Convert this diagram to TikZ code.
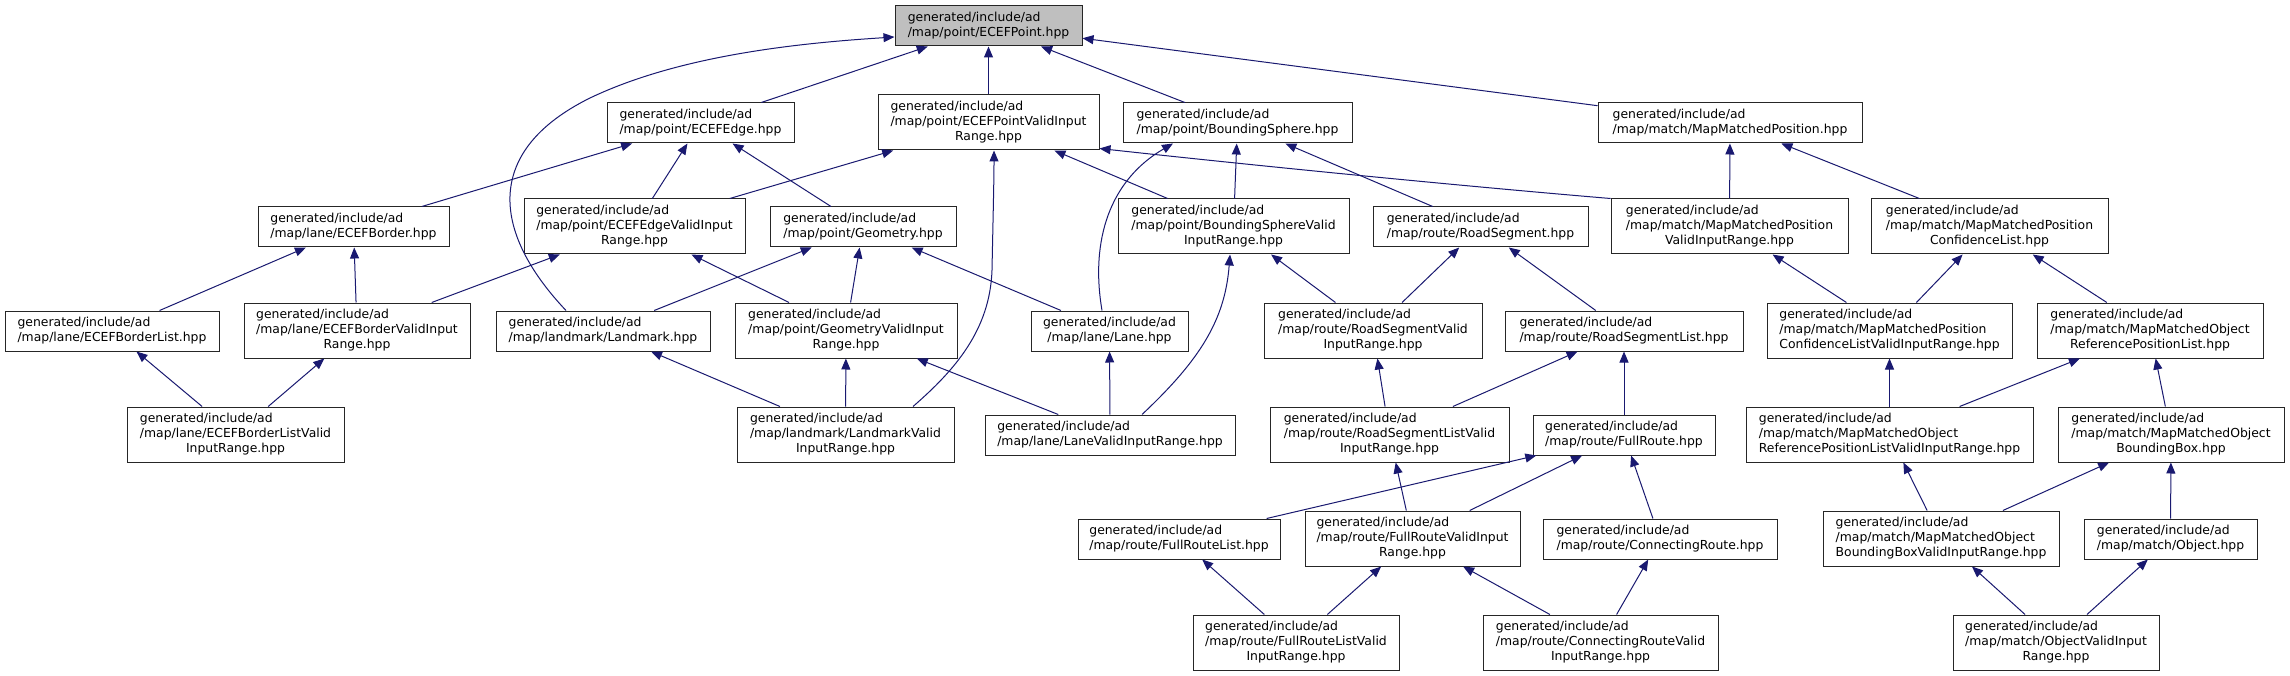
\documentclass[tikz,border=0pt]{standalone}
\usepackage{fontspec}
\usetikzlibrary{arrows.meta}
\newfontfamily\dxfont{DejaVu Sans}
\definecolor{edgeblue}{HTML}{191970}
\definecolor{rootgray}{HTML}{BFBFBF}
\newcommand\twol[2]{\begin{tabular}{@{}l@{}}#1\\\multicolumn{1}{@{}c@{}}{#2}\end{tabular}}
\newcommand\threel[3]{\begin{tabular}{@{}l@{}}#1\\#2\\\multicolumn{1}{@{}c@{}}{#3}\end{tabular}}
\begin{document}
\begin{tikzpicture}[x=1pt,y=-1pt,
  dbox/.style={draw=black!85,line width=1pt,fill=white,inner sep=0pt,
    font=\dxfont\fontsize{12.4}{15}\selectfont,minimum height=40pt},
  tall/.style={minimum height=55pt},
  rootbox/.style={dbox,fill=rootgray},
  dep/.style={draw=edgeblue,line width=1pt,-{Triangle[length=11pt,width=9pt]}}]
\fill[white] (0,0) rectangle (2290,676);
\useasboundingbox (0,0) rectangle (2290,676);
% row 0
\node[rootbox,minimum width=187pt] (ECEFPoint) at (988.5,26) {\twol{generated/include/ad}{/map/point/ECEFPoint.hpp}};
% row 1
\node[dbox,minimum width=187pt] (ECEFEdge) at (700.5,123) {\twol{generated/include/ad}{/map/point/ECEFEdge.hpp}};
\node[dbox,tall,minimum width=221pt] (ECEFPVIR) at (988.5,122.5) {\threel{generated/include/ad}{/map/point/ECEFPointValidInput}{Range.hpp}};
\node[dbox,minimum width=229pt] (BS) at (1237.5,123) {\twol{generated/include/ad}{/map/point/BoundingSphere.hpp}};
\node[dbox,minimum width=264pt] (MMP) at (1730,123) {\twol{generated/include/ad}{/map/match/MapMatchedPosition.hpp}};
% row 2
\node[dbox,minimum width=191pt] (EB) at (353.5,227) {\twol{generated/include/ad}{/map/lane/ECEFBorder.hpp}};
\node[dbox,tall,minimum width=221pt] (EEVIR) at (634.5,226.5) {\threel{generated/include/ad}{/map/point/ECEFEdgeValidInput}{Range.hpp}};
\node[dbox,minimum width=186pt] (Geometry) at (863,227) {\twol{generated/include/ad}{/map/point/Geometry.hpp}};
\node[dbox,tall,minimum width=231pt] (BSVIR) at (1233.5,226.5) {\threel{generated/include/ad}{/map/point/BoundingSphereValid}{InputRange.hpp}};
\node[dbox,minimum width=215pt] (RS) at (1480.5,227) {\twol{generated/include/ad}{/map/route/RoadSegment.hpp}};
\node[dbox,tall,minimum width=237pt] (MMPVIR) at (1729.5,226.5) {\threel{generated/include/ad}{/map/match/MapMatchedPosition}{ValidInputRange.hpp}};
\node[dbox,tall,minimum width=237pt] (MMPCL) at (1989.5,226.5) {\threel{generated/include/ad}{/map/match/MapMatchedPosition}{ConfidenceList.hpp}};
% row 3
\node[dbox,minimum width=214pt] (EBL) at (112,331) {\twol{generated/include/ad}{/map/lane/ECEFBorderList.hpp}};
\node[dbox,tall,minimum width=226pt] (EBVIR) at (357,330.5) {\threel{generated/include/ad}{/map/lane/ECEFBorderValidInput}{Range.hpp}};
\node[dbox,minimum width=214pt] (Landmark) at (603,331) {\twol{generated/include/ad}{/map/landmark/Landmark.hpp}};
\node[dbox,tall,minimum width=222pt] (GVIR) at (846,330.5) {\threel{generated/include/ad}{/map/point/GeometryValidInput}{Range.hpp}};
\node[dbox,minimum width=157pt] (Lane) at (1109.5,331) {\twol{generated/include/ad}{/map/lane/Lane.hpp}};
\node[dbox,tall,minimum width=218pt] (RSVIR) at (1373,330.5) {\threel{generated/include/ad}{/map/route/RoadSegmentValid}{InputRange.hpp}};
\node[dbox,minimum width=238pt] (RSL) at (1624,331) {\twol{generated/include/ad}{/map/route/RoadSegmentList.hpp}};
\node[dbox,tall,minimum width=245pt] (MMPCLVIR) at (1889.5,330.5) {\threel{generated/include/ad}{/map/match/MapMatchedPosition}{ConfidenceListValidInputRange.hpp}};
\node[dbox,tall,minimum width=226pt] (MMORPL) at (2150,330.5) {\threel{generated/include/ad}{/map/match/MapMatchedObject}{ReferencePositionList.hpp}};
% row 4
\node[dbox,tall,minimum width=217pt] (EBLVIR) at (235.5,434.5) {\threel{generated/include/ad}{/map/lane/ECEFBorderListValid}{InputRange.hpp}};
\node[dbox,tall,minimum width=217pt] (LVIR) at (845.5,434.5) {\threel{generated/include/ad}{/map/landmark/LandmarkValid}{InputRange.hpp}};
\node[dbox,minimum width=250pt] (LaneVIR) at (1110,435) {\twol{generated/include/ad}{/map/lane/LaneValidInputRange.hpp}};
\node[dbox,tall,minimum width=239pt] (RSLVIR) at (1389.5,434.5) {\threel{generated/include/ad}{/map/route/RoadSegmentListValid}{InputRange.hpp}};
\node[dbox,minimum width=182pt] (FR) at (1624,435) {\twol{generated/include/ad}{/map/route/FullRoute.hpp}};
\node[dbox,tall,minimum width=287pt] (MMORPLVIR) at (1889.5,434.5) {\threel{generated/include/ad}{/map/match/MapMatchedObject}{ReferencePositionListValidInputRange.hpp}};
\node[dbox,tall,minimum width=226pt] (MMOBB) at (2171,434.5) {\threel{generated/include/ad}{/map/match/MapMatchedObject}{BoundingBox.hpp}};
% row 5
\node[dbox,minimum width=202pt] (FRL) at (1179,539) {\twol{generated/include/ad}{/map/route/FullRouteList.hpp}};
\node[dbox,tall,minimum width=215pt] (FRVIR) at (1412.5,538.5) {\threel{generated/include/ad}{/map/route/FullRouteValidInput}{Range.hpp}};
\node[dbox,minimum width=234pt] (CR) at (1660,539) {\twol{generated/include/ad}{/map/route/ConnectingRoute.hpp}};
\node[dbox,tall,minimum width=236pt] (MMOBBVIR) at (1941,538.5) {\threel{generated/include/ad}{/map/match/MapMatchedObject}{BoundingBoxValidInputRange.hpp}};
\node[dbox,minimum width=173pt] (Object) at (2170.5,539) {\twol{generated/include/ad}{/map/match/Object.hpp}};
% row 6
\node[dbox,tall,minimum width=206pt] (FRLVIR) at (1296,642.5) {\threel{generated/include/ad}{/map/route/FullRouteListValid}{InputRange.hpp}};
\node[dbox,tall,minimum width=235pt] (CRVIR) at (1600.5,642.5) {\threel{generated/include/ad}{/map/route/ConnectingRouteValid}{InputRange.hpp}};
\node[dbox,tall,minimum width=206pt] (ObjVIR) at (2056,642.5) {\threel{generated/include/ad}{/map/match/ObjectValidInput}{Range.hpp}};
% edges into ECEFPoint
\draw[dep] (ECEFEdge) -- (ECEFPoint);
\draw[dep] ([xshift=-37pt]Landmark.north) .. controls (490,230) and (485,150) .. (590,98) .. controls (680,55) and (800,43) .. ([yshift=-11pt]ECEFPoint.west);
\draw[dep] (ECEFPVIR) -- (ECEFPoint);
\draw[dep] (BS) -- (ECEFPoint);
\draw[dep] (MMP) -- (ECEFPoint);
% into ECEFEdge
\draw[dep] (EB) -- (ECEFEdge);
\draw[dep] (EEVIR) -- (ECEFEdge);
\draw[dep] (Geometry) -- (ECEFEdge);
% into ECEFPVIR
\draw[dep] (EEVIR) -- (ECEFPVIR);
\draw[dep] ([xshift=67.5pt]LVIR.north) .. controls (955,370) and (990,330) .. (992,270) .. controls (993,220) and (994,180) .. ([xshift=5.5pt]ECEFPVIR.south);
\draw[dep] (BSVIR) -- (ECEFPVIR);
\draw[dep] (MMPVIR.north west) .. controls (1450,185) and (1250,165) .. ([yshift=2pt]ECEFPVIR.south east);
% into BoundingSphere
\draw[dep] ([xshift=-7.5pt]Lane.north) .. controls (1090,240) and (1110,180) .. ([xshift=-64.5pt]BS.south);
\draw[dep] (BSVIR) -- (BS);
\draw[dep] (RS) -- (BS);
% into ECEFBorder
\draw[dep] (EBL) -- (EB);
\draw[dep] (EBVIR) -- (EB);
% into ECEFEdgeValidInputRange
\draw[dep] (EBVIR) -- (EEVIR);
\draw[dep] (GVIR) -- (EEVIR);
% into Geometry
\draw[dep] (Landmark) -- (Geometry);
\draw[dep] (GVIR) -- (Geometry);
\draw[dep] (Lane) -- (Geometry);
% into BSVIR
\draw[dep] ([xshift=32pt]LaneVIR.north) .. controls (1200,360) and (1225,320) .. ([xshift=-3.5pt]BSVIR.south);
\draw[dep] (RSVIR) -- (BSVIR);
% into RoadSegment
\draw[dep] (RSVIR) -- (RS);
\draw[dep] (RSL) -- (RS);
% into MapMatchedPosition
\draw[dep] (MMPVIR) -- (MMP);
\draw[dep] (MMPCL) -- (MMP);
% into MMPVIR / MMPCL
\draw[dep] (MMPCLVIR) -- (MMPVIR);
\draw[dep] (MMPCLVIR) -- (MMPCL);
\draw[dep] (MMORPL) -- (MMPCL);
% row 4 -> row 3
\draw[dep] (EBLVIR) -- (EBL);
\draw[dep] (EBLVIR) -- (EBVIR);
\draw[dep] (LVIR) -- (Landmark);
\draw[dep] (LVIR) -- (GVIR);
\draw[dep] (LaneVIR) -- (GVIR);
\draw[dep] (LaneVIR) -- (Lane);
\draw[dep] (RSLVIR) -- (RSVIR);
\draw[dep] (RSLVIR) -- (RSL);
\draw[dep] (FR) -- (RSL);
\draw[dep] (MMORPLVIR) -- (MMPCLVIR);
\draw[dep] (MMORPLVIR) -- (MMORPL);
\draw[dep] (MMOBB) -- (MMORPL);
% row 5 -> row 4
\draw[dep] (FRL) -- (FR);
\draw[dep] (FRVIR) -- (FR);
\draw[dep] (CR) -- (FR);
\draw[dep] (FRVIR) -- (RSLVIR);
\draw[dep] (MMOBBVIR) -- (MMORPLVIR);
\draw[dep] (MMOBBVIR) -- (MMOBB);
\draw[dep] (Object) -- (MMOBB);
% row 6 -> row 5
\draw[dep] (FRLVIR) -- (FRL);
\draw[dep] (FRLVIR) -- (FRVIR);
\draw[dep] (CRVIR) -- (FRVIR);
\draw[dep] (CRVIR) -- (CR);
\draw[dep] (ObjVIR) -- (MMOBBVIR);
\draw[dep] (ObjVIR) -- (Object);
\end{tikzpicture}
\end{document}
